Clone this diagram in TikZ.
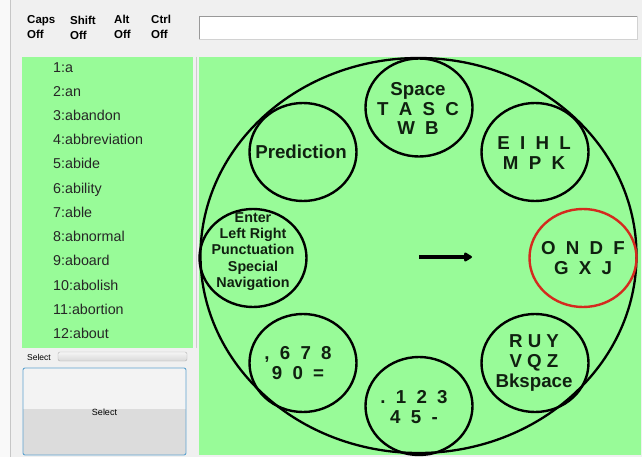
\documentclass[tikz,border=0pt]{standalone}
\usepackage{fontspec}
\setmainfont{Liberation Sans}
\usetikzlibrary{shapes.geometric,arrows.meta}
\definecolor{panelgreen}{HTML}{98FB98}
\definecolor{bggray}{HTML}{F0F0F0}
\definecolor{ringred}{HTML}{D42A1E}
\definecolor{btnblue}{HTML}{5FA3CF}
\definecolor{btntop}{HTML}{F3F3F3}
\definecolor{btnbot}{HTML}{DCDCDC}
\definecolor{inktext}{HTML}{102010}
\begin{document}
\begin{tikzpicture}[x=1pt,y=-1pt,
  keyring/.style={ellipse,draw=black,line width=2.4pt,minimum width=107pt,minimum height=98pt,inner sep=0pt},
  keytext/.style={font=\bfseries\fontsize{18.7}{19.8}\selectfont,align=center,inner sep=0pt,text=inktext},
  smalltext/.style={font=\bfseries\fontsize{14.3}{16.3}\selectfont,align=center,inner sep=0pt,text=inktext},
  word/.style={font=\fontsize{14.3}{16}\selectfont,anchor=base west,inner sep=0pt,text=black!85},
  status/.style={font=\bfseries\fontsize{11.5}{12}\selectfont,anchor=base west,inner sep=0pt}]
% background and bounds
\fill[bggray] (0,0) rectangle (642,457);
\useasboundingbox (0,0) rectangle (642,457);
\fill[white!60!bggray] (0,0) rectangle (10,457);
\draw[gray!45,line width=0.8pt] (10.5,0) -- (10.5,457);

% status labels
\node[status] (capsL) at (27,24) {Caps};
\node[status] (capsV) at (27,39) {Off};
\node[status] (shiftL) at (70,25) {Shift};
\node[status] (shiftV) at (70,40) {Off};
\node[status] (altL) at (114,24) {Alt};
\node[status] (altV) at (114,39) {Off};
\node[status] (ctrlL) at (151,24) {Ctrl};
\node[status] (ctrlV) at (151,39) {Off};

% text field
\fill[white] (199,16) rectangle (637,39);
\draw[gray!80,line width=0.9pt] (199,39) -- (199,16) -- (637,16);
\draw[gray!35,line width=0.8pt] (637,16) -- (637,39) -- (199,39);

% left word list
\fill[panelgreen] (22,57) rectangle (193,348);
\draw[gray!40,line width=0.8pt] (196,57) -- (196,348);
\foreach \w [count=\i] in {a,an,abandon,abbreviation,abide,ability,able,abnormal,aboard,abolish,abortion,about}{
  \node[word] (w\i) at (53,{67+24.2*(\i-1)+5.2}) {\i:\w};
}

% progress bar
\node[font=\fontsize{8.5}{9}\selectfont,anchor=west,inner sep=0pt] (selL) at (27,357) {Select};
\draw[draw=gray!60,top color=gray!8,bottom color=gray!30,rounded corners=2pt] (58,352) rectangle (187,361);

% select button
\fill[btntop] (23,368) rectangle (186,409);
\fill[btnbot] (23,409) rectangle (186,455);
\draw[btnblue,line width=0.9pt,rounded corners=2pt] (23,368) rectangle (186,455);
\node[font=\fontsize{9}{10}\selectfont,inner sep=0pt] (selB) at (104.5,412) {Select};

% right panel
\fill[panelgreen] (199,57) rectangle (641,455);
\node[ellipse,draw=black,line width=2.3pt,minimum width=436pt,minimum height=395pt,inner sep=0pt] (wheel) at (418.5,255.5) {};

% key circles
\node[keyring] (space) at (419,107.5) {};
\node[keyring] (pred) at (303,152) {};
\node[keyring] (eihl) at (535,152) {};
\node[keyring] (enter) at (253,258) {};
\node[keyring,draw=ringred] (ondf) at (583,258) {};
\node[keyring] (nums) at (303,363) {};
\node[keyring] (ruy) at (535,363) {};
\node[keyring] (dots) at (419,406) {};

% key texts
\node[keytext] (spaceT) at (418,108.5) {Space\\T\hspace{0.55em}A\hspace{0.55em}S\hspace{0.55em}C\\W\hspace{0.55em}B};
\node[keytext] (predT) at (301,152) {Prediction};
\node[keytext] (eihlT) at (534,153) {E\hspace{0.55em}I\hspace{0.55em}H\hspace{0.55em}L\\M\hspace{0.55em}P\hspace{0.55em}K};
\node[smalltext] (enterT) at (253,251.5) {Enter\\Left Right\\Punctuation\\Special\\Navigation};
\node[keytext] (ondfT) at (583,258) {O\hspace{0.55em}N\hspace{0.55em}D\hspace{0.55em}F\\G\hspace{0.55em}X\hspace{0.55em}J};
\node[keytext] (numsT) at (298,363) {,\hspace{0.55em}6\hspace{0.55em}7\hspace{0.55em}8\\9\hspace{0.55em}0\hspace{0.55em}=};
\node[keytext] (ruyT) at (534,363) {R U Y\\V Q Z\\Bkspace};
\node[keytext] (dotsT) at (414,407) {.\hspace{0.55em}1\hspace{0.55em}2\hspace{0.55em}3\\4\hspace{0.55em}5\hspace{0.55em}-};

% arrow
\coordinate (arrS) at (419,257);
\coordinate (arrE) at (472,257);
\draw[line width=4.5pt,-{Triangle[length=9pt,width=10pt,round]}] (arrS) -- (arrE);
\end{tikzpicture}
\end{document}
